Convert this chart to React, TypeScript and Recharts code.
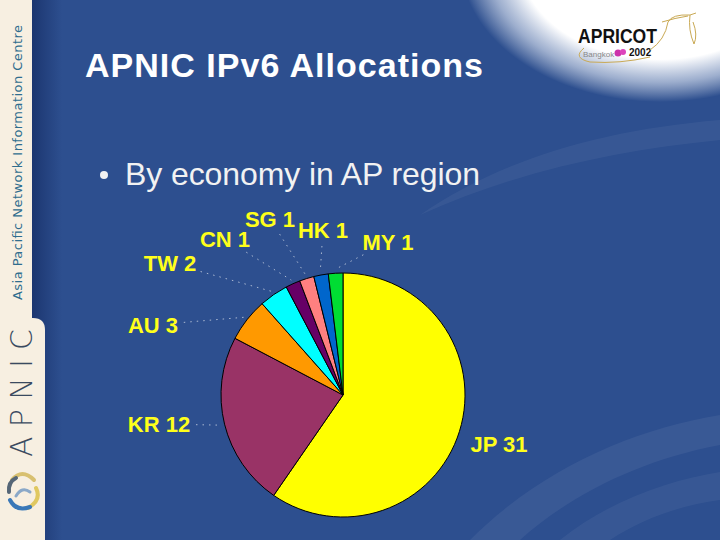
import React from "react";
import { PieChart, Pie, Cell } from "recharts";

const economies = ["JP", "KR", "AU", "TW", "CN", "SG", "HK", "MY"];
const allocations = [31, 12, 3, 2, 1, 1, 1, 1];
const sliceColors = ["#FFFF00", "#993366", "#FF9900", "#00FFFF", "#660066", "#FF8080", "#0066CC", "#00DD33"];

const titleText = "APNIC IPv6 Allocations";
const bulletText = "By economy in AP region";

const data = economies.map((name, i) => ({ name, value: allocations[i] }));

// label placement (relative to pie centre), style only
const LABEL_OFFSET: Record<string, [number, number]> = {
  JP: [156, 57],
  KR: [-184, 37],
  AU: [-190, -62],
  TW: [-173, -124],
  CN: [-118, -148],
  SG: [-73, -168],
  HK: [-20, -157],
  MY: [45, -145],
};

const RAD = Math.PI / 180;
const FONT = "'Liberation Sans', Arial, sans-serif";

function renderLabel(props: any) {
  const { cx, cy, midAngle, outerRadius, index } = props;
  const name = economies[index] ?? props.name;
  const value = allocations[index] ?? props.value;
  const text = `${name} ${value}`;
  const off = LABEL_OFFSET[name] || [0, 0];
  const lx = cx + off[0];
  const ly = cy + off[1];
  const px = cx + (outerRadius + 4) * Math.cos(-midAngle * RAD);
  const py = cy + (outerRadius + 4) * Math.sin(-midAngle * RAD);
  const bx = lx;
  const by = ly - 8;
  const ddx = px - bx;
  const ddy = py - by;
  const len = Math.hypot(ddx, ddy) || 1;
  const hw = text.length * 6.2;
  const hh = 10;
  const t = Math.min(
    Math.abs(ddx) > 0.01 ? hw / Math.abs(ddx) : Infinity,
    Math.abs(ddy) > 0.01 ? hh / Math.abs(ddy) : Infinity
  );
  const sx = bx + ddx * t + (ddx / len) * 6;
  const sy = by + ddy * t + (ddy / len) * 6;
  const show = t < 1 && Math.hypot(px - sx, py - sy) > 12;
  return (
    <g key={`lbl-${index}`}>
      {show && (
        <line x1={sx} y1={sy} x2={px} y2={py} stroke="#ffffff" strokeWidth={1} strokeDasharray="1.5 5" opacity={0.6} />
      )}
      <text x={lx} y={ly} textAnchor="middle" fill="#FFFF1A" fontFamily={FONT} fontWeight="bold" fontSize={22}>
        {text}
      </text>
    </g>
  );
}

function Background() {
  return (
    <svg width={720} height={540} style={{ position: "absolute", left: 0, top: 0 }}>
      <defs>
        <linearGradient id="shadow" x1="0" y1="0" x2="1" y2="0">
          <stop offset="0" stopColor="#1c3670" />
          <stop offset="1" stopColor="#2d4f8f" />
        </linearGradient>
        <radialGradient id="glow" cx="0.5" cy="0.5" r="0.5">
          <stop offset="0" stopColor="#ffffff" stopOpacity={1} />
          <stop offset="0.7" stopColor="#ffffff" stopOpacity={1} />
          <stop offset="0.86" stopColor="#e8eef8" stopOpacity={0.6} />
          <stop offset="1" stopColor="#ffffff" stopOpacity={0} />
        </radialGradient>
      </defs>
      <rect x={0} y={0} width={720} height={540} fill="#F7EFE1" />
      <path d="M 32 15 Q 32 0 47 0 L 720 0 L 720 540 L 32 540 Z" fill="#2d4f8f" />
      <rect x={32} y={0} width={30} height={540} fill="url(#shadow)" />
      <path d="M 0 318 L 33 318 Q 45 318 45 330 L 45 540 L 0 540 Z" fill="#F7EFE1" />
      {/* lower right swooshes */}
      <path d="M 470 540 C 540 470, 630 430, 720 415 L 720 445 C 640 460, 570 495, 520 540 Z" fill="#ffffff" opacity={0.06} />
      <path d="M 560 540 C 610 500, 670 480, 720 472 L 720 500 C 680 505, 640 520, 610 540 Z" fill="#ffffff" opacity={0.05} />
      <path d="M 420 215 C 520 170, 620 150, 720 140 L 720 120 C 600 130, 500 160, 420 215 Z" fill="#ffffff" opacity={0.05} />
      <ellipse cx={660} cy={-40} rx={200} ry={142} fill="url(#glow)" />
      {/* APRICOT logo */}
      <text x={578} y={43} fontFamily="'Liberation Sans Narrow', 'Liberation Sans', Arial, sans-serif" fontWeight="bold" fontSize={21} fill="#111" textLength={79} lengthAdjust="spacingAndGlyphs">APRICOT</text>
      <text x={583} y={57} fontFamily={FONT} fontSize={8} fill="#888">Bangkok</text>
      <circle cx={618} cy={53} r={3.5} fill="#cc33aa" />
      <circle cx={623} cy={52} r={3} fill="#dd44bb" />
      <text x={629} y={56} fontFamily={FONT} fontWeight="bold" fontSize={10} fill="#111">2002</text>
      <path d="M 584 48 Q 572 58 590 62 Q 620 64 650 57" fill="none" stroke="#c9a954" strokeWidth={1} />
      <path d="M 650 50 Q 665 40 668 22 Q 672 14 690 15 L 696 13 M 690 15 Q 688 30 694 44 Q 698 35 693 22" fill="none" stroke="#c9a954" strokeWidth={1} />
      <path d="M 662 22 Q 675 18 688 16" fill="none" stroke="#c9a954" strokeWidth={1} />
      {/* title */}
      <text x={85} y={77} fontFamily={FONT} fontWeight="bold" fontSize={34} fill="#ffffff" textLength={398} lengthAdjust="spacing">{titleText}</text>
      <circle cx={104} cy={175} r={4} fill="#f2f2f2" />
      <text x={125} y={185} fontFamily={FONT} fontSize={32} fill="#f2f2f2" textLength={355} lengthAdjust="spacing">{bulletText}</text>
      {/* sidebar texts */}
      <text transform="translate(22, 300) rotate(-90)" fontFamily="'DejaVu Sans', sans-serif" fontSize={13} fill="#2f6d8e" textLength={275} lengthAdjust="spacing">Asia Pacific Network Information Centre</text>
      <text transform="translate(32, 457) rotate(-90)" fontFamily="'DejaVu Sans', sans-serif" fontWeight={300} fontSize={30} fill="#3a4a60" textLength={128} lengthAdjust="spacing">APNIC</text>
      {/* swirl logo */}
      <g fill="none" strokeWidth={4} strokeLinecap="round">
        <path d="M 12 480 Q 22 468 34 480" stroke="#d8c070" />
        <path d="M 36 488 Q 42 500 28 508" stroke="#e0c860" />
        <path d="M 30 507 Q 16 512 10 500" stroke="#3a78b8" />
        <path d="M 9 492 Q 8 482 16 478" stroke="#556677" />
        <path d="M 16 496 Q 22 486 30 492" stroke="#8aa8c8" strokeWidth={3} />
      </g>
    </svg>
  );
}

export default function App() {
  return (
    <div style={{ position: "fixed", left: 0, top: 0, width: 720, height: 540, overflow: "hidden" }}>
      <Background />
      <div style={{ position: "absolute", left: 0, top: 0 }}>
        <PieChart width={720} height={540} margin={{ top: 0, right: 0, bottom: 0, left: 0 }}>
          <Pie
            data={data}
            dataKey="value"
            nameKey="name"
            cx={343}
            cy={395}
            outerRadius={122}
            startAngle={90}
            endAngle={-270}
            stroke="#000000"
            strokeWidth={1}
            label={renderLabel}
            labelLine={false}
            isAnimationActive={false}
          >
            {data.map((d, i) => (
              <Cell key={d.name} fill={sliceColors[i]} stroke="#000000" />
            ))}
          </Pie>
        </PieChart>
      </div>
    </div>
  );
}
